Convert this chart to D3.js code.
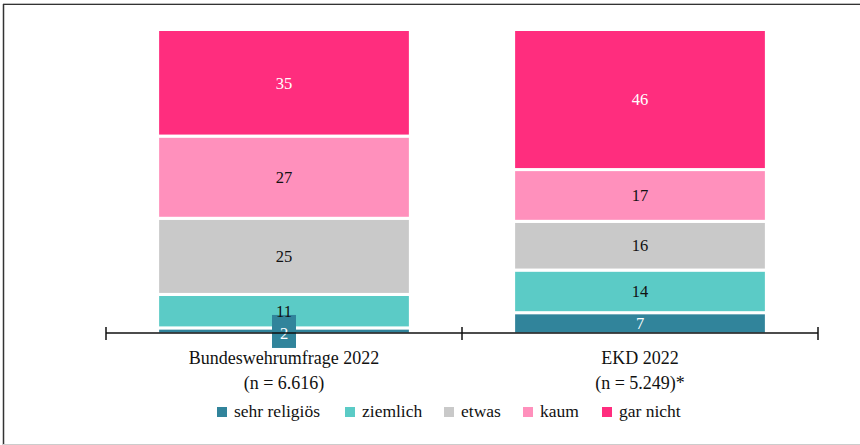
<!DOCTYPE html>
<html>
<head>
<meta charset="utf-8">
<script src="https://cdn.jsdelivr.net/npm/d3@7"></script>
<style>
  body { margin: 0; background: #fff; }
  svg text { font-family: "Liberation Serif", "DejaVu Serif", serif; }
</style>
</head>
<body>
<svg width="860" height="445"></svg>
<script>
// survey groups and their answers (percent)
const groups = ['Bundeswehrumfrage 2022', 'EKD 2022']
const sampleSizes = ['(n = 6.616)', '(n = 5.249)*']
const answers = ['sehr religiös', 'ziemlich', 'etwas', 'kaum', 'gar nicht']
const bundeswehr = [2, 11, 25, 27, 35]
const ekd = [7, 14, 16, 17, 46]
const colors = ['#31849b', '#5bcbc6', '#c9c9c9', '#ff90bc', '#ff2d7e']
const labelColors = ['#fff', '#111', '#111', '#111', '#fff']

const svg = d3.select('svg')

// frame
svg.append('line').attr('x1', 3).attr('x2', 860).attr('y1', 3.5).attr('y2', 3.5)
  .attr('stroke', '#bbb').attr('stroke-width', 1)
svg.append('line').attr('x1', 3).attr('x2', 860).attr('y1', 4.5).attr('y2', 4.5)
  .attr('stroke', '#333').attr('stroke-width', 1)
svg.append('line').attr('x1', 3.5).attr('x2', 3.5).attr('y1', 4).attr('y2', 445)
  .attr('stroke', '#333').attr('stroke-width', 1.5)
svg.append('line').attr('x1', 3).attr('x2', 860).attr('y1', 444.5).attr('y2', 444.5)
  .attr('stroke', '#ccc').attr('stroke-width', 1)

const x = d3.scaleBand().domain(groups).range([106, 818]).paddingInner(0.29).paddingOuter(0.145)
const y = d3.scaleLinear().domain([0, 100]).range([334, 29.5])

const rows = [bundeswehr, ekd]
const stack = d3.stack().keys(d3.range(answers.length))
const table = rows.map((r, i) => {
  const o = { group: groups[i] }
  r.forEach((v, k) => { o[k] = v })
  return o
})
const series = stack(table)

const g = svg.append('g')
series.forEach((s, k) => {
  g.selectAll('.seg' + k)
    .data(s)
    .enter().append('rect')
    .attr('x', d => x(d.data.group))
    .attr('width', x.bandwidth())
    .attr('y', d => y(d[1]))
    .attr('height', d => y(d[0]) - y(d[1]))
    .attr('fill', colors[k])
    .attr('stroke', '#fff')
    .attr('stroke-width', 3)
})

// axis
const axisG = svg.append('g')
axisG.append('line').attr('x1', 106).attr('x2', 818).attr('y1', 333).attr('y2', 333)
  .attr('stroke', '#111').attr('stroke-width', 1.5)
const ticks = [x.range()[0], (x.range()[0] + x.range()[1]) / 2, x.range()[1]]
axisG.selectAll('.tick').data(ticks).enter().append('line')
  .attr('x1', d => d).attr('x2', d => d)
  .attr('y1', 327).attr('y2', 340)
  .attr('stroke', '#111').attr('stroke-width', 1.5)

// value labels
series.forEach((s, k) => {
  s.forEach(d => {
    const v = d[1] - d[0]
    const cx = x(d.data.group) + x.bandwidth() / 2
    const cy = (y(d[0]) + y(d[1])) / 2
    if (v < 5) {
      g.append('rect').attr('x', cx - 12).attr('y', cy - 16).attr('width', 24).attr('height', 33)
        .attr('fill', colors[k])
    }
    g.append('text')
      .attr('x', cx).attr('y', v < 5 ? cy + 2 : cy)
      .attr('dy', '0.35em')
      .attr('text-anchor', 'middle')
      .attr('font-size', 16.5)
      .attr('fill', labelColors[k])
      .text(v)
  })
})

// category labels
groups.forEach((name, i) => {
  const cx = x(name) + x.bandwidth() / 2
  svg.append('text').attr('x', cx).attr('y', 364).attr('text-anchor', 'middle')
    .attr('font-size', 18).attr('fill', '#111').text(name)
  svg.append('text').attr('x', cx).attr('y', 389).attr('text-anchor', 'middle')
    .attr('font-size', 18).attr('fill', '#111').text(sampleSizes[i])
})

// legend
const legendX = [217, 345, 444, 523, 602]
const legend = svg.append('g')
answers.forEach((a, k) => {
  legend.append('rect').attr('x', legendX[k]).attr('y', 407).attr('width', 10).attr('height', 10)
    .attr('fill', colors[k])
  legend.append('text').attr('x', legendX[k] + 17).attr('y', 417)
    .attr('font-size', 17.5).attr('fill', '#111').text(a)
})
</script>
</body>
</html>
